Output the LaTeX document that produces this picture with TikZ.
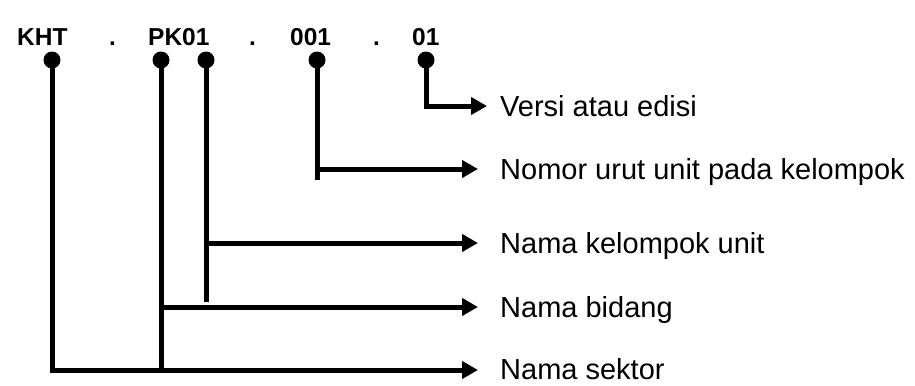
\documentclass[tikz,border=0pt]{standalone}
\usepackage{fontspec}
\setmainfont{Liberation Sans}
\usetikzlibrary{arrows.meta}
\begin{document}
\begin{tikzpicture}[x=1bp,y=-1bp,
  hdr/.style={anchor=base west,inner sep=0pt,font=\fontsize{24.5bp}{28bp}\selectfont\bfseries},
  lbl/.style={anchor=base west,inner sep=0pt,text depth=0pt,font=\fontsize{29bp}{33bp}\selectfont},
  dot/.style={circle,fill=black,inner sep=0pt,minimum size=17bp},
  wire/.style={line width=5bp,line join=miter},
  arr/.style={wire,-{Triangle[length=16bp,width=17bp]}}]
\useasboundingbox (0,0) rectangle (915,385);
% header
\node[hdr] (t1) at (17,45) {KHT};
\node[hdr] (p1) at (109,45) {.};
\node[hdr] (t2) at (148,45) {PK01};
\node[hdr] (p2) at (249,45) {.};
\node[hdr] (t3) at (290,45) {001};
\node[hdr] (p3) at (373,45) {.};
\node[hdr] (t4) at (412,45) {01};
% dots
\node[dot] (c1) at (52,60) {};
\node[dot] (c2) at (161,60) {};
\node[dot] (c3) at (206,60) {};
\node[dot] (c4) at (317,60) {};
\node[dot] (c5) at (426,60) {};
% arrow ends
\coordinate (a1) at (487,106);
\coordinate (a2) at (478,169);
\coordinate (a3) at (478,243);
\coordinate (a4) at (478,307);
\coordinate (a5) at (478,370);
\coordinate (e3) at (206,302);
\coordinate (e4) at (317,180);
\coordinate (e2) at (161,373);
% labels
\node[lbl] (l1) at (500,116) {Versi atau edisi};
\node[lbl] (l2) at (500,179) {Nomor urut unit pada kelompok};
\node[lbl] (l3) at (500,253) {Nama kelompok unit};
\node[lbl] (l4) at (500,317) {Nama bidang};
\node[lbl] (l5) at (500,379) {Nama sektor};
% connectors
\draw[arr] (c5.center) |- (a1);
\draw[wire] (c4.center) -- (e4);
\draw[arr] (c4 |- a2) -- (a2);
\draw[wire] (c3.center) -- (e3);
\draw[arr] (c3 |- a3) -- (a3);
\draw[wire] (c2.center) -- (e2);
\draw[arr] (c2 |- a4) -- (a4);
\draw[arr] (c1.center) |- (a5);
\end{tikzpicture}
\end{document}
